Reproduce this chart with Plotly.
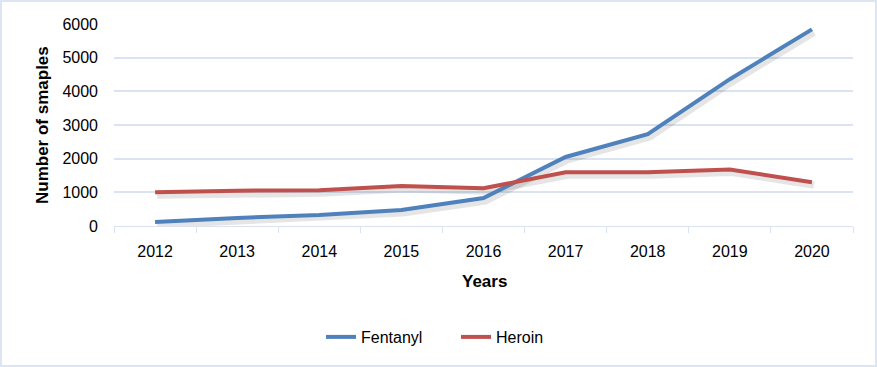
import plotly.graph_objects as go

years = ["2012", "2013", "2014", "2015", "2016", "2017", "2018", "2019", "2020"]
fentanyl = [120, 240, 330, 475, 830, 2050, 2730, 4360, 5840]
heroin = [1000, 1050, 1060, 1190, 1120, 1595, 1595, 1680, 1300]
y_ticks = [0, 1000, 2000, 3000, 4000, 5000, 6000]

FONT = "Liberation Sans, Arial, sans-serif"
GRID = "#d9e3f1"

W, H = 877, 367
L, R, T, B = 114, 24, 24, 141
pw, ph = W - L - R, H - T - B

def px_x(p):
    return (p - L) / pw

def px_y(p):
    return (H - B - p) / ph

# soft drop shadow: same data drawn on a hidden axis pair shifted by a few pixels
sx = 2 / (pw / 9)
sy = 3 / ph * 6000
SHADOW = "rgba(0,0,0,0.10)"

fig = go.Figure()
fig.add_trace(go.Scatter(x=years, y=fentanyl, mode="lines", showlegend=False, hoverinfo="skip",
                         line=dict(color=SHADOW, width=7), xaxis="x", yaxis="y"))
fig.add_trace(go.Scatter(x=years, y=heroin, mode="lines", showlegend=False, hoverinfo="skip",
                         line=dict(color=SHADOW, width=7), xaxis="x", yaxis="y"))
fig.add_trace(go.Scatter(x=years, y=fentanyl, mode="lines", name="Fentanyl",
                         line=dict(color="#4f81bd", width=4), xaxis="x2", yaxis="y2"))
fig.add_trace(go.Scatter(x=years, y=heroin, mode="lines", name="Heroin",
                         line=dict(color="#c0504d", width=4), xaxis="x2", yaxis="y2"))

fig.update_layout(
    width=W, height=H,
    margin=dict(l=L, r=R, t=T, b=B, autoexpand=False),
    paper_bgcolor="white", plot_bgcolor="white",
    font=dict(family=FONT, size=16, color="#000000"),
    showlegend=True,
    legend=dict(orientation="h", x=px_x(456), xanchor="center", y=px_y(337), yanchor="middle",
                font=dict(family=FONT, size=16), itemwidth=30, tracegroupgap=0,
                entrywidth=90, entrywidthmode="pixels"),
    xaxis=dict(type="category", range=[-0.5 - sx, 8.5 - sx], visible=False, showgrid=False),
    yaxis=dict(range=[sy, 6000 + sy], visible=False, showgrid=False, zeroline=False),
    xaxis2=dict(type="category", range=[-0.5, 8.5], overlaying="x", anchor="y2", side="bottom",
                showgrid=False, showline=True, linecolor=GRID, linewidth=1,
                ticks="outside", tickson="boundaries", ticklen=6, tickcolor=GRID,
                ticklabelstandoff=11, tickfont=dict(family=FONT, size=16)),
    yaxis2=dict(range=[0, 6000], tickvals=y_ticks, overlaying="y", anchor="x2", side="left",
                showgrid=True, gridcolor=GRID, gridwidth=2,
                zeroline=False, showline=False, ticks="", ticklabelstandoff=15,
                tickfont=dict(family=FONT, size=16)),
    annotations=[
        dict(text="<b>Years</b>", xref="paper", yref="paper", x=px_x(484), y=px_y(281),
             xanchor="center", yanchor="middle", showarrow=False,
             font=dict(family=FONT, size=17)),
        dict(text="<b>Number of smaples</b>", xref="paper", yref="paper", x=px_x(42), y=px_y(125),
             xanchor="center", yanchor="middle", textangle=-90, showarrow=False,
             font=dict(family=FONT, size=17)),
    ],
    shapes=[
        dict(type="rect", xref="paper", yref="paper",
             x0=px_x(1), x1=px_x(876), y0=px_y(366), y1=px_y(1),
             line=dict(color="#dce6f2", width=2), layer="below"),
    ],
)

fig.write_html("out.html", config={"displayModeBar": False},
               post_script="document.body.style.margin='0';")
